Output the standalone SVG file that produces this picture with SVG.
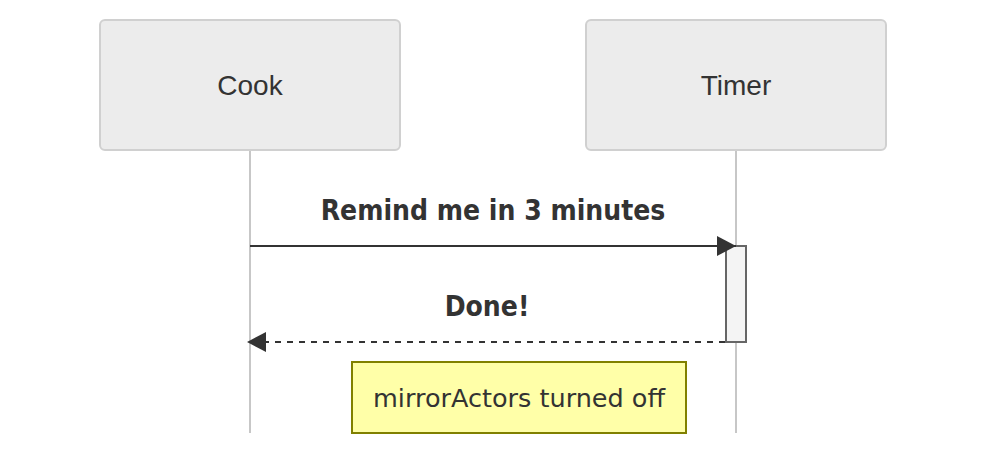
<svg xmlns="http://www.w3.org/2000/svg" width="986" height="454" viewBox="0 0 986 454">
<style>
.actor rect{fill:#ececec;stroke:#d0d0d0;stroke-width:2}
.actor text{font-family:"Liberation Sans",Arial,sans-serif;font-size:28px;fill:#333;text-anchor:middle}
.life{stroke:#b5b5b5;stroke-width:1.5}
.msg{stroke:#333;stroke-width:2;fill:none}
.dash{stroke-dasharray:6,6}
.mtext{font-family:"DejaVu Sans Condensed","DejaVu Sans",sans-serif;font-stretch:condensed;font-weight:bold;font-size:28px;fill:#333;text-anchor:middle}
.note rect{fill:#ffffa8;stroke:#808000;stroke-width:2}
.note text{font-family:"DejaVu Sans",sans-serif;font-size:25.5px;fill:#333;text-anchor:middle}
.act{fill:#f4f4f4;stroke:#666;stroke-width:2}
</style>
<defs>
<marker id="arrow" viewBox="0 0 20 20" refX="19" refY="10" markerWidth="20" markerHeight="20" markerUnits="userSpaceOnUse" orient="auto">
<path d="M0,0 L19,10 L0,20 z" fill="#333"/>
</marker>
</defs>
<g id="lifelines">
<line class="life" x1="250" y1="150" x2="250" y2="433"/>
<line class="life" x1="736" y1="150" x2="736" y2="433"/>
</g>
<g id="actor-cook" class="actor">
<rect x="100" y="20" width="300" height="130" rx="5"/>
<text x="250" y="95">Cook</text>
</g>
<g id="actor-timer" class="actor">
<rect x="586" y="20" width="300" height="130" rx="5"/>
<text x="736" y="95">Timer</text>
</g>
<g id="activation-timer">
<rect class="act" x="726" y="246" width="20" height="96"/>
</g>
<g id="connectors">
<line class="msg" x1="250" y1="246" x2="736" y2="246" marker-end="url(#arrow)"/>
<text class="mtext" x="493" y="220">Remind me in 3 minutes</text>
<line class="msg dash" x1="725" y1="342" x2="247" y2="342" marker-end="url(#arrow)"/>
<text class="mtext" x="487" y="316">Done!</text>
</g>
<g id="note" class="note">
<rect x="352" y="362" width="334" height="71"/>
<text x="519" y="407">mirrorActors turned off</text>
</g>
</svg>
